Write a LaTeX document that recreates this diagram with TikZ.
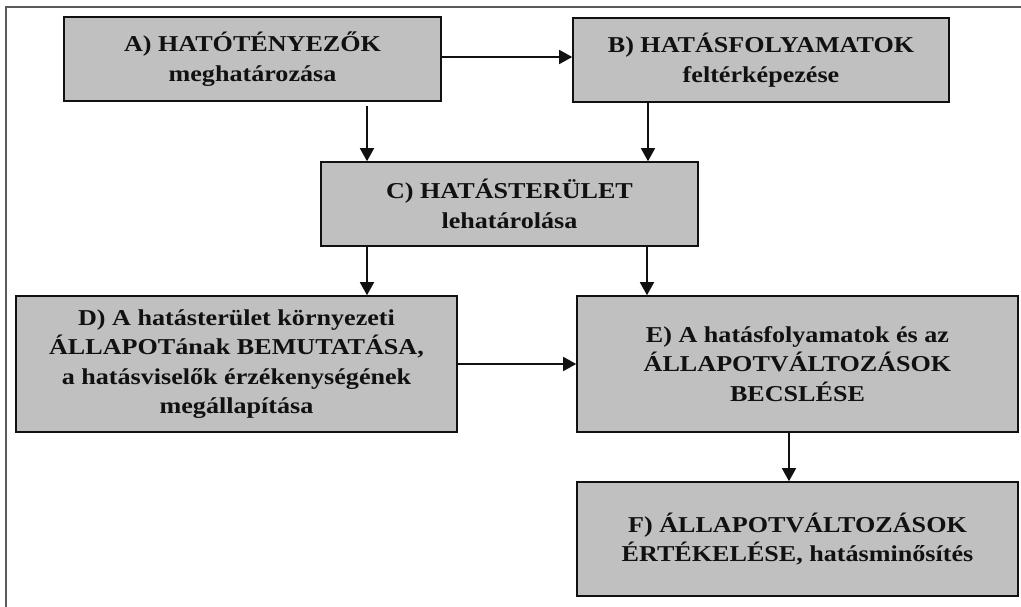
\documentclass[tikz,border=0pt]{standalone}
\usepackage{fontspec}
\newfontfamily\boxfont{Liberation Serif}[FakeStretch=1.15]
\usetikzlibrary{arrows.meta}
\definecolor{boxgray}{HTML}{C0C0C0}
\definecolor{framegray}{HTML}{5A5A5A}
\definecolor{ink}{HTML}{111111}
\tikzset{
  stage/.style={draw=ink, line width=1.6pt, fill=boxgray, inner sep=0pt,
    align=center, text=ink,
    font=\boxfont\bfseries\fontsize{22.7}{29.5}\selectfont},
  arr/.style={draw=ink, line width=1.6pt, -{Triangle[width=14pt,length=13pt]}},
  frame/.style={draw=framegray, line width=1.6pt}
}
\begin{document}
\begin{tikzpicture}[x=1pt,y=-1pt]
\useasboundingbox (0,0) rectangle (1021,606);
\begin{scope}
\clip (0,0) rectangle (1021,606);
\draw[frame] (6,620) -- (6,7) -- (1035,7);
\end{scope}
\node[stage, minimum width=377pt, minimum height=84pt] (A) at (252.5,59)
  {A) HATÓTÉNYEZŐK\\meghatározása};
\node[stage, minimum width=376pt, minimum height=84pt] (B) at (761,60)
  {B) HATÁSFOLYAMATOK\\feltérképezése};
\node[stage, minimum width=377pt, minimum height=84pt] (C) at (509.5,204)
  {C) HATÁSTERÜLET\\lehatárolása};
\node[stage, minimum width=441pt, minimum height=136pt] (D) at (236.5,364)
  {D) A hatásterület környezeti\\ÁLLAPOTának BEMUTATÁSA,\\a hatásviselők érzékenységének\\megállapítása};
\node[stage, minimum width=441pt, minimum height=136pt] (E) at (797.5,364)
  {E) A hatásfolyamatok és az\\ÁLLAPOTVÁLTOZÁSOK\\BECSLÉSE};
\node[stage, minimum width=441pt, minimum height=114pt] (F) at (797.5,539)
  {F) ÁLLAPOTVÁLTOZÁSOK\\ÉRTÉKELÉSE, hatásminősítés};
\draw[arr] (A.east |- 0,57) -- (B.west |- 0,57);
\draw[arr] ([yshift=-4pt]A.south -| 367,0) -- (C.north -| 367,0);
\draw[arr] (B.south -| 648,0) -- (C.north -| 648,0);
\draw[arr] (C.south -| 367,0) -- (D.north -| 367,0);
\draw[arr] (C.south -| 647,0) -- (E.north -| 647,0);
\draw[arr] (D.east) -- (E.west);
\draw[arr] (E.south -| 789,0) -- (F.north -| 789,0);
\end{tikzpicture}
\end{document}
